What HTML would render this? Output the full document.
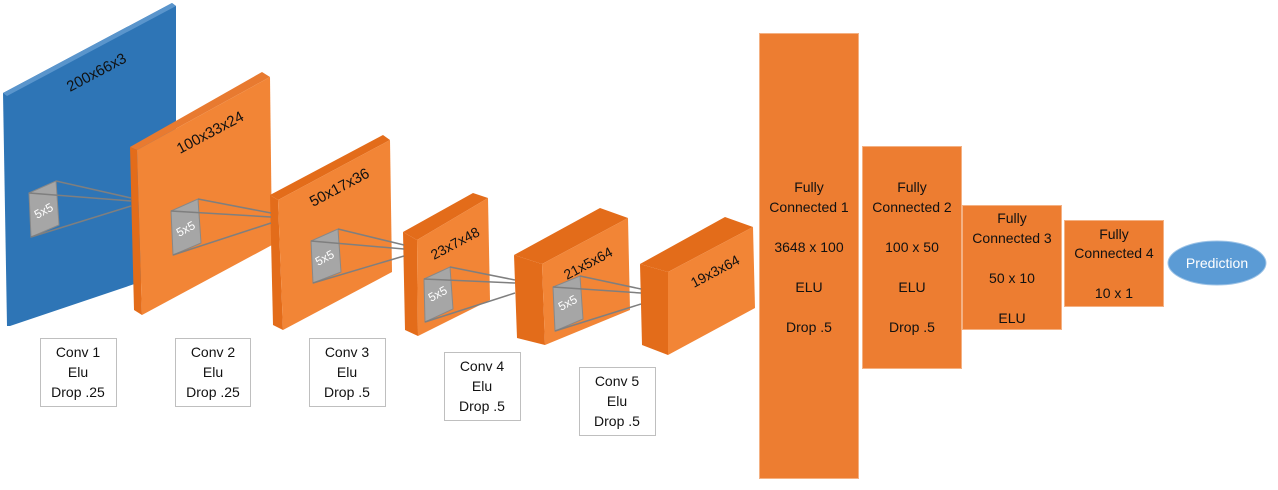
<!DOCTYPE html>
<html><head><meta charset="utf-8"><style>
html,body{margin:0;padding:0;background:#fff;}
svg{display:block;font-family:"Liberation Sans",sans-serif;}
</style></head><body>
<svg width="1278" height="490" viewBox="0 0 1278 490">
<!-- blue input -->
<polygon points="3,93 172,3 176,6 176,270 10,326 7,326" fill="#2e75b6"/>
<polygon points="3,93 172,3 176,6 7,96" fill="#5a95cc"/>
<text transform="translate(70,92) rotate(-28)" font-size="15" fill="#111">200x66x3</text>
<!-- kernel 1 -->
<polygon points="29,193 56,181 59,225 31,237" fill="#a6a6a6" stroke="#888" stroke-width="1"/>
<text transform="translate(37,219) rotate(-28)" font-size="12" fill="#fff">5x5</text>

<!-- orange 1 -->
<polygon points="130,147 262,72 270,77 137,150" fill="#e87a30"/>
<polygon points="130,147 137,150 142,315 134,310" fill="#e36c1a"/>
<polygon points="137,150 270,77 272,245 142,315" fill="#f28536"/>
<text transform="translate(180,154) rotate(-28)" font-size="15" fill="#111">100x33x24</text>
<line x1="56" y1="181" x2="131" y2="198" stroke="#7f7f7f" stroke-width="1.5"/>
<line x1="29" y1="193" x2="131" y2="201" stroke="#7f7f7f" stroke-width="1.5"/>
<line x1="31" y1="237" x2="131" y2="206" stroke="#7f7f7f" stroke-width="1.5"/>
<polygon points="171,211 198,199 201,243 173,255" fill="#a6a6a6" stroke="#888" stroke-width="1"/>
<text transform="translate(179,237) rotate(-28)" font-size="12" fill="#fff">5x5</text>

<!-- orange 2 -->
<polygon points="270,195 383,135 390,140 278,200" fill="#e36c1a"/>
<polygon points="270,195 278,200 283,330 273,325" fill="#e36c1a"/>
<polygon points="278,200 390,140 392,272 283,330" fill="#f28536"/>
<text transform="translate(313,207) rotate(-28)" font-size="15" fill="#111">50x17x36</text>
<line x1="198" y1="199" x2="271" y2="213" stroke="#7f7f7f" stroke-width="1.5"/>
<line x1="171" y1="211" x2="271" y2="217" stroke="#7f7f7f" stroke-width="1.5"/>
<line x1="173" y1="255" x2="271" y2="223" stroke="#7f7f7f" stroke-width="1.5"/>
<polygon points="311,241 338,229 341,272 313,283" fill="#a6a6a6" stroke="#888" stroke-width="1"/>
<text transform="translate(318,266) rotate(-28)" font-size="12" fill="#fff">5x5</text>

<!-- orange 3 -->
<polygon points="403,232 473,193 488,198 417,240" fill="#e36c1a"/>
<polygon points="403,232 417,240 418,336 405,330" fill="#e36c1a"/>
<polygon points="417,240 488,198 490,300 418,336" fill="#f28536"/>
<text transform="translate(434,260) rotate(-28)" font-size="14" fill="#111">23x7x48</text>
<line x1="338" y1="229" x2="404" y2="245" stroke="#7f7f7f" stroke-width="1.5"/>
<line x1="311" y1="241" x2="404" y2="249" stroke="#7f7f7f" stroke-width="1.5"/>
<line x1="313" y1="283" x2="404" y2="256" stroke="#7f7f7f" stroke-width="1.5"/>
<polygon points="424,279 450,267 453,309 425,322" fill="#a6a6a6" stroke="#888" stroke-width="1"/>
<text transform="translate(431,302) rotate(-28)" font-size="12" fill="#fff">5x5</text>

<!-- orange 4 -->
<polygon points="514,255 600,208 628,218 542,264" fill="#e36c1a"/>
<polygon points="514,255 542,264 545,345 517,338" fill="#e36c1a"/>
<polygon points="542,264 628,218 630,310 545,345" fill="#f28536"/>
<text transform="translate(567,280) rotate(-28)" font-size="14" fill="#111">21x5x64</text>
<line x1="450" y1="267" x2="515" y2="280" stroke="#7f7f7f" stroke-width="1.5"/>
<line x1="424" y1="279" x2="515" y2="283" stroke="#7f7f7f" stroke-width="1.5"/>
<line x1="425" y1="322" x2="515" y2="293" stroke="#7f7f7f" stroke-width="1.5"/>
<polygon points="553,287 580,276 583,319 555,331" fill="#a6a6a6" stroke="#888" stroke-width="1"/>
<text transform="translate(561,311) rotate(-28)" font-size="12" fill="#fff">5x5</text>

<!-- orange 5 -->
<polygon points="640,264 725,217 753,227 668,272" fill="#e36c1a"/>
<polygon points="640,264 668,272 668,355 642,345" fill="#e36c1a"/>
<polygon points="668,272 753,227 755,308 668,355" fill="#f28536"/>
<text transform="translate(694,288) rotate(-28)" font-size="14" fill="#111">19x3x64</text>
<line x1="580" y1="276" x2="641" y2="289" stroke="#7f7f7f" stroke-width="1.5"/>
<line x1="553" y1="287" x2="641" y2="293" stroke="#7f7f7f" stroke-width="1.5"/>
<line x1="555" y1="331" x2="641" y2="304" stroke="#7f7f7f" stroke-width="1.5"/>

<!-- conv labels -->
<g font-size="14" fill="#111" text-anchor="middle">
<rect x="40.5" y="338.5" width="76" height="68" fill="#fff" stroke="#bfbfbf"/>
<text x="78" y="357">Conv 1</text><text x="78" y="377">Elu</text><text x="78" y="397">Drop .25</text>
<rect x="175.5" y="338.5" width="75" height="68" fill="#fff" stroke="#bfbfbf"/>
<text x="213" y="357">Conv 2</text><text x="213" y="377">Elu</text><text x="213" y="397">Drop .25</text>
<rect x="309.5" y="338.5" width="76" height="68" fill="#fff" stroke="#bfbfbf"/>
<text x="347" y="357">Conv 3</text><text x="347" y="377">Elu</text><text x="347" y="397">Drop .5</text>
<rect x="444.5" y="352.5" width="76" height="68" fill="#fff" stroke="#bfbfbf"/>
<text x="482" y="371">Conv 4</text><text x="482" y="391">Elu</text><text x="482" y="411">Drop .5</text>
<rect x="579.5" y="367.5" width="76" height="68" fill="#fff" stroke="#bfbfbf"/>
<text x="617" y="386">Conv 5</text><text x="617" y="406">Elu</text><text x="617" y="426">Drop .5</text>
</g>

<!-- FC -->
<g font-size="14" fill="#111" text-anchor="middle">
<rect x="759.5" y="33.5" width="99" height="445" fill="#ed7d31" stroke="#f4b183"/>
<text x="809" y="192">Fully</text><text x="809" y="212">Connected 1</text>
<text x="809" y="252">3648 x 100</text><text x="809" y="292">ELU</text><text x="809" y="332">Drop .5</text>
<rect x="862.5" y="146.5" width="99" height="222" fill="#ed7d31" stroke="#f4b183"/>
<text x="912" y="192">Fully</text><text x="912" y="212">Connected 2</text>
<text x="912" y="252">100 x 50</text><text x="912" y="292">ELU</text><text x="912" y="332">Drop .5</text>
<rect x="962.5" y="205.5" width="99" height="124" fill="#ed7d31" stroke="#f4b183"/>
<text x="1012" y="223">Fully</text><text x="1012" y="243">Connected 3</text>
<text x="1012" y="283">50 x 10</text><text x="1012" y="323">ELU</text>
<rect x="1064.5" y="220.5" width="99" height="86" fill="#ed7d31" stroke="#f4b183"/>
<text x="1114" y="239">Fully</text><text x="1114" y="258">Connected 4</text>
<text x="1114" y="298">10 x 1</text>
<ellipse cx="1217" cy="263" rx="49" ry="22" fill="#5b9bd5" stroke="#9dc3e6"/>
<text x="1217" y="268" fill="#fff">Prediction</text>
</g>
</svg>
</body></html>
